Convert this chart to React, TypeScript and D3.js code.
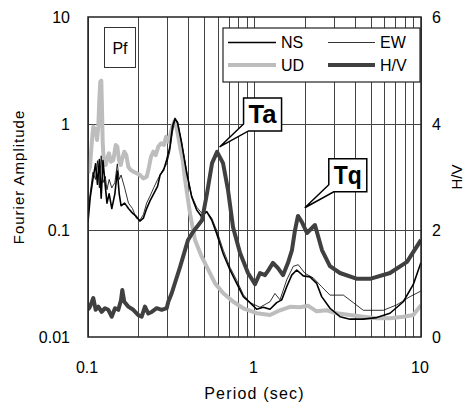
import React from "react";
import * as d3 from "d3";

// period (sec), Fourier amplitude
const nsSpectrum: [number, number][] = [
  [0.1, 0.12], [0.103, 0.2], [0.107, 0.3], [0.111, 0.42], [0.114, 0.27], [0.117, 0.46],
  [0.12, 0.2], [0.123, 0.45], [0.127, 0.26], [0.13, 0.18], [0.134, 0.22], [0.139, 0.16],
  [0.145, 0.22], [0.15, 0.36], [0.154, 0.22], [0.158, 0.17], [0.166, 0.18], [0.175, 0.16],
  [0.185, 0.145], [0.195, 0.135], [0.205, 0.122], [0.215, 0.13], [0.225, 0.16], [0.236, 0.19],
  [0.248, 0.22], [0.262, 0.26], [0.271, 0.33], [0.285, 0.37], [0.297, 0.46], [0.31, 0.6],
  [0.322, 0.95], [0.333, 1.12], [0.345, 1.02], [0.3654, 0.655], [0.3914, 0.343], [0.4196, 0.206],
  [0.4497, 0.155], [0.4818, 0.134], [0.5164, 0.15], [0.5534, 0.125], [0.593, 0.093], [0.6495, 0.06],
  [0.7127, 0.0425], [0.7817, 0.0318], [0.8564, 0.0239], [0.9397, 0.021], [1.031, 0.0182], [1.129, 0.019],
  [1.239, 0.0182], [1.359, 0.021], [1.457, 0.0223], [1.561, 0.0296], [1.673, 0.038], [1.793, 0.0425],
  [1.964, 0.0374], [2.154, 0.0366], [2.363, 0.0318], [2.532, 0.0239], [2.841, 0.0186], [3.262, 0.0155],
  [3.746, 0.0147], [4.502, 0.0147], [5.42, 0.0152], [6.513, 0.0167], [7.828, 0.0214], [8.99, 0.0311],
  [10, 0.05],
];

const ewSpectrum: [number, number][] = [
  [0.1, 0.13], [0.103, 0.22], [0.107, 0.35], [0.111, 0.3], [0.114, 0.45], [0.117, 0.25],
  [0.12, 0.5], [0.123, 0.28], [0.127, 0.32], [0.13, 0.24], [0.134, 0.3], [0.139, 0.25],
  [0.145, 0.28], [0.15, 0.42], [0.154, 0.3], [0.158, 0.33], [0.166, 0.25], [0.175, 0.18],
  [0.185, 0.16], [0.195, 0.13], [0.205, 0.125], [0.215, 0.14], [0.225, 0.18], [0.236, 0.21],
  [0.248, 0.25], [0.262, 0.3], [0.271, 0.33], [0.285, 0.38], [0.297, 0.42], [0.31, 0.55],
  [0.322, 0.85], [0.333, 1.08], [0.345, 1.05], [0.3654, 0.66], [0.3914, 0.36], [0.4196, 0.21],
  [0.4497, 0.165], [0.4818, 0.145], [0.5164, 0.15], [0.5534, 0.13], [0.593, 0.1], [0.6495, 0.065],
  [0.7127, 0.045], [0.7817, 0.034], [0.8564, 0.025], [0.9397, 0.021], [1.079, 0.019], [1.239, 0.0214],
  [1.327, 0.0256], [1.423, 0.0223], [1.561, 0.0343], [1.71, 0.046], [1.832, 0.0476], [2.011, 0.0395],
  [2.255, 0.0358], [2.532, 0.0296], [2.841, 0.0247], [3.416, 0.0247], [3.922, 0.021], [4.502, 0.0178],
  [5.937, 0.0178], [7.148, 0.02], [8.59, 0.0239], [10, 0.027],
];

const udSpectrum: [number, number][] = [
  [0.1, 0.343], [0.1028, 0.395], [0.1053, 0.655], [0.1076, 0.937], [0.1112, 0.873], [0.1133, 0.703],
  [0.1153, 0.937], [0.1169, 1.667], [0.1185, 2.47], [0.1202, 2.53], [0.1214, 1.34], [0.1226, 0.655],
  [0.1243, 0.456], [0.1277, 0.41], [0.1313, 0.49], [0.1337, 0.527], [0.1374, 0.44], [0.1419, 0.456],
  [0.1467, 0.631], [0.15, 0.608], [0.1535, 0.456], [0.1572, 0.41], [0.1607, 0.473], [0.1652, 0.546],
  [0.1698, 0.508], [0.1746, 0.395], [0.1805, 0.368], [0.1871, 0.355], [0.1961, 0.343], [0.2053, 0.33],
  [0.2149, 0.307], [0.2253, 0.318], [0.2326, 0.395], [0.2391, 0.49], [0.2468, 0.546], [0.2551, 0.508],
  [0.2644, 0.608], [0.2745, 0.655], [0.2861, 0.631], [0.2941, 0.755], [0.3035, 0.678], [0.312, 0.783],
  [0.3207, 0.937], [0.3298, 1.045], [0.3377, 0.972], [0.3486, 0.755], [0.3604, 0.566], [0.3705, 0.456],
  [0.3826, 0.3], [0.41, 0.144], [0.4392, 0.081], [0.4818, 0.0566], [0.528, 0.0425], [0.5794, 0.0318],
  [0.6495, 0.0257], [0.746, 0.0214], [0.856, 0.0186], [1.031, 0.0167], [1.239, 0.0161], [1.423, 0.0178],
  [1.634, 0.0192], [1.876, 0.019], [2.104, 0.0196], [2.363, 0.0174], [2.714, 0.0178], [3.116, 0.0167],
  [3.746, 0.0161], [4.502, 0.0155], [5.42, 0.015], [6.513, 0.015], [7.828, 0.0155], [8.99, 0.0161],
  [10, 0.0199],
];

// period (sec), H/V ratio
const hvRatio: [number, number][] = [
  [0.1, 0.51], [0.1028, 0.57], [0.1076, 0.73], [0.1112, 0.51], [0.1153, 0.57], [0.1208, 0.47],
  [0.1265, 0.54], [0.1324, 0.51], [0.1388, 0.38], [0.1453, 0.54], [0.1521, 0.51], [0.1578, 0.69],
  [0.1607, 0.88], [0.1652, 0.66], [0.1746, 0.57], [0.1871, 0.51], [0.2005, 0.41], [0.2101, 0.38],
  [0.2198, 0.57], [0.2303, 0.44], [0.2413, 0.47], [0.2586, 0.54], [0.2771, 0.51], [0.2969, 0.54],
  [0.3035, 0.66], [0.3182, 0.82], [0.357, 1.31], [0.399, 1.82], [0.427, 1.97], [0.484, 2.19],
  [0.519, 2.7], [0.556, 3.26], [0.596, 3.47], [0.647, 3.26], [0.693, 2.76], [0.743, 2.06],
  [0.818, 1.58], [0.914, 1.2], [1.007, 0.99], [1.079, 1.2], [1.156, 1.16], [1.205, 1.24],
  [1.291, 1.39], [1.384, 1.29], [1.483, 1.16], [1.589, 1.39], [1.679, 1.63], [1.75, 2.0],
  [1.824, 2.27], [1.93, 2.15], [2.066, 1.95], [2.307, 2.1], [2.542, 1.63], [2.838, 1.33],
  [3.26, 1.2], [4.13, 1.09], [4.94, 1.09], [6.51, 1.2], [8.24, 1.41], [10, 1.82],
];

const xTickLabels = ["0.1", "1", "10"];
const ampTickLabels = ["0.01", "0.1", "1", "10"];
const hvTickLabels = ["0", "2", "4", "6"];

// peaks marked with callouts: label, period and H/V of the pointer tip
const peakNotes: [string, number, number][] = [
  ["Ta", 0.6, 3.47],
  ["Tq", 1.95, 2.33],
];

const font = "'Liberation Sans', Arial, sans-serif";

export default function App() {
  const left = 88, right = 421, top = 17, bottom = 337;

  const x = d3.scaleLog().domain([0.1, 10]).range([left, right]);
  const y = d3.scaleLog().domain([0.01, 10]).range([bottom, top]);
  const yHV = d3.scaleLinear().domain([0, 6]).range([bottom, top]);

  const ampLine = d3.line<[number, number]>().x((d) => x(d[0])).y((d) => y(d[1]));
  const hvLine = d3.line<[number, number]>().x((d) => x(d[0])).y((d) => yHV(d[1]));

  const vGrid = x.ticks();
  const hGrid = [0.1, 1];

  // callout bubble: box up-right of the tip with a pointer from its lower-left corner
  const callout = (tx: number, ty: number) => {
    const bx = tx + 24, by = ty - 49, w = 38, h = 33;
    return `M${bx},${by} H${bx + w} V${by + h} H${bx + 5} L${tx},${ty} L${bx},${by + h - 7} Z`;
  };

  return (
    <svg
      width={465}
      height={403}
      style={{ position: "absolute", left: 0, top: 0, background: "#fff" }}
      fontFamily={font}
    >
      <defs>
        <clipPath id="plot">
          <rect x={left} y={top} width={right - left} height={bottom - top} />
        </clipPath>
      </defs>
      <rect width={465} height={403} fill="#fff" />

      {vGrid.map((t) => (
        <line key={"v" + t} x1={Math.round(x(t)) + 0.5} x2={Math.round(x(t)) + 0.5} y1={top} y2={bottom} stroke="#444" strokeWidth={1} />
      ))}
      {hGrid.map((t) => (
        <line key={"h" + t} x1={left} x2={right} y1={Math.round(y(t)) + 0.5} y2={Math.round(y(t)) + 0.5} stroke="#444" strokeWidth={1} />
      ))}

      <g clipPath="url(#plot)" fill="none" strokeLinejoin="round">
        <path d={ampLine(udSpectrum) || ""} stroke="#bdbdbd" strokeWidth={4} />
        <path d={ampLine(ewSpectrum) || ""} stroke="#000" strokeWidth={0.8} />
        <path d={ampLine(nsSpectrum) || ""} stroke="#000" strokeWidth={1.6} />
        <path d={hvLine(hvRatio) || ""} stroke="#404040" strokeWidth={4} />
      </g>

      <rect x={left} y={top} width={right - left} height={bottom - top} fill="none" stroke="#222" strokeWidth={1.5} />

      {ampTickLabels.map((s) => (
        <text key={s} x={70} y={y(+s) + 6} textAnchor="end" fontSize={16}>{s}</text>
      ))}
      {hvTickLabels.map((s) => (
        <text key={s} x={432} y={yHV(+s) + 6} fontSize={16}>{s}</text>
      ))}
      {xTickLabels.map((s) => (
        <text key={s} x={x(+s) - 1} y={373} textAnchor="middle" fontSize={16}>{s}</text>
      ))}

      <text transform={`translate(24,${(top + bottom) / 2}) rotate(-90)`} textAnchor="middle" fontSize={15} letterSpacing={1}>
        Fourier Amplitude
      </text>
      <text transform={`translate(462,${(top + bottom) / 2}) rotate(-90)`} textAnchor="middle" fontSize={15}>
        H/V
      </text>
      <text x={(left + right) / 2} y={399} textAnchor="middle" fontSize={16} letterSpacing={1.2}>
        Period (sec)
      </text>

      <rect x={104.5} y={27.5} width={31} height={40} fill="#fff" stroke="#333" strokeWidth={1} />
      <text x={120} y={54} textAnchor="middle" fontSize={16}>Pf</text>

      <rect x={223} y={28} width={197} height={54} fill="#fff" stroke="#222" strokeWidth={1.2} />
      <line x1={228} x2={276} y1={42.5} y2={42.5} stroke="#000" strokeWidth={1.6} />
      <text x={281} y={48} fontSize={16}>NS</text>
      <line x1={328} x2={375} y1={42.5} y2={42.5} stroke="#000" strokeWidth={0.8} />
      <text x={380} y={48} fontSize={16}>EW</text>
      <line x1={228} x2={276} y1={65} y2={65} stroke="#bdbdbd" strokeWidth={4} />
      <text x={281} y={71} fontSize={16}>UD</text>
      <line x1={328} x2={375} y1={65} y2={65} stroke="#404040" strokeWidth={4} />
      <text x={380} y={71} fontSize={16}>H/V</text>

      {peakNotes.map(([label, p, h]) => {
        const tx = x(p) + 2, ty = yHV(h) - 5;
        return (
          <g key={label}>
            <path d={callout(tx, ty)} fill="#fff" stroke="#000" strokeWidth={1.5} />
            <text x={tx + 43} y={ty - 24} textAnchor="middle" fontSize={26} fontWeight="bold" textLength={28} lengthAdjust="spacingAndGlyphs">
              {label}
            </text>
          </g>
        );
      })}
    </svg>
  );
}
